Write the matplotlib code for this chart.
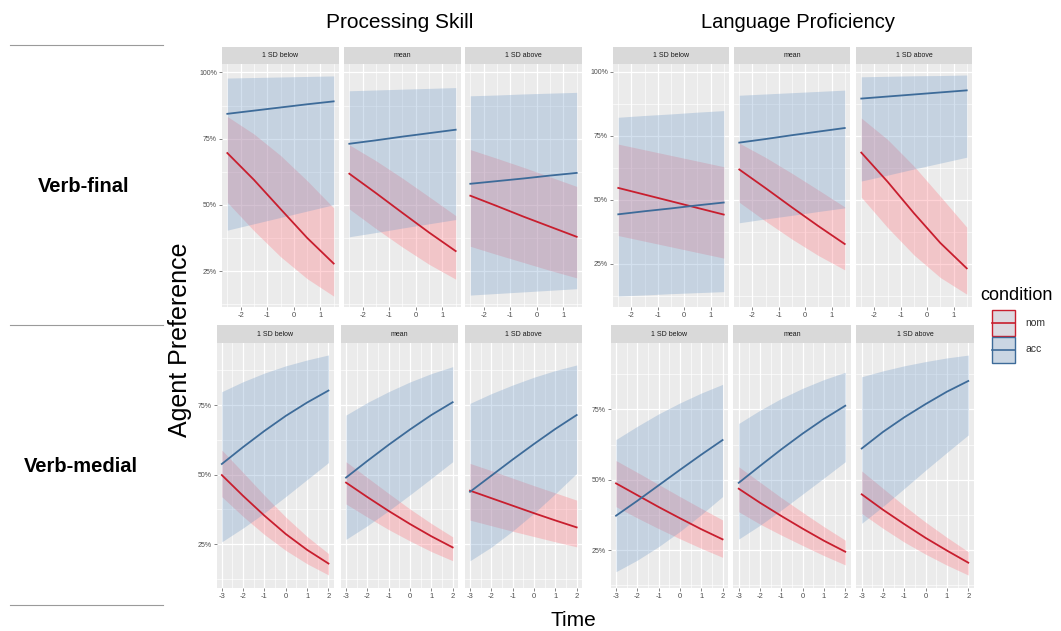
import matplotlib.pyplot as plt
from matplotlib.patches import Rectangle
from matplotlib.lines import Line2D
from matplotlib.ticker import MultipleLocator, FuncFormatter

plt.rcParams['font.family'] = ['Liberation Sans', 'DejaVu Sans']
plt.rcParams['axes.unicode_minus'] = False

W, H = 1061, 631

facets = ["1 SD below", "mean", "1 SD above"]
time_top = [-2.5, -1.5, -0.5, 0.5, 1.5]
time_bottom = [-3, -2, -1, 0, 1, 2]
ticks_top = [-2, -1, 0, 1]
ticks_bottom = [-3, -2, -1, 0, 1, 2]

# agent preference (%), one row per facet: 1 SD below, mean, 1 SD above
# verb-final, processing skill
vf_ps_nom = [[69.6, 59.5, 48.5, 37.6, 27.9], [61.8, 54.5, 47.0, 39.6, 32.6], [53.5, 49.6, 45.6, 41.8, 38.0]]
vf_ps_nom_lo = [[51.0, 40.3, 30.5, 22.2, 15.6], [48.5, 41.1, 34.1, 27.6, 22.0], [34.4, 31.3, 28.3, 25.3, 22.5]]
vf_ps_nom_hi = [[83.4, 76.8, 68.7, 59.2, 48.9], [72.7, 66.7, 60.1, 53.1, 46.0], [70.9, 67.6, 64.2, 60.6, 57.0]]
vf_ps_acc = [[84.4, 85.6, 86.8, 88.0, 89.1], [73.1, 74.4, 75.8, 77.1, 78.4], [58.0, 59.0, 60.0, 61.1, 62.1]]
vf_ps_acc_lo = [[40.5, 42.9, 45.3, 47.7, 50.1], [38.0, 39.6, 41.3, 42.9, 44.5], [16.0, 16.6, 17.2, 17.8, 18.4]]
vf_ps_acc_hi = [[97.9, 98.1, 98.3, 98.5, 98.7], [93.1, 93.4, 93.7, 94.0, 94.3], [91.2, 91.5, 91.9, 92.2, 92.5]]

# verb-final, language proficiency
vf_lp_nom = [[54.6, 52.0, 49.4, 46.8, 44.2], [61.8, 54.5, 47.0, 39.7, 32.7], [68.4, 57.0, 44.7, 33.1, 23.2]]
vf_lp_nom_lo = [[36.0, 33.8, 31.6, 29.4, 27.2], [49.0, 41.6, 34.6, 28.2, 22.6], [51.0, 39.1, 28.4, 19.6, 13.1]]
vf_lp_nom_hi = [[71.7, 69.5, 67.3, 65.1, 62.9], [72.1, 66.5, 60.3, 53.8, 47.2], [81.9, 73.5, 63.1, 51.3, 39.3]]
vf_lp_acc = [[44.3, 45.5, 46.6, 47.8, 48.9], [72.3, 73.7, 75.2, 76.6, 78.0], [89.5, 90.3, 91.1, 91.9, 92.7]]
vf_lp_acc_lo = [[12.4, 12.8, 13.3, 13.7, 14.1], [41.0, 42.5, 43.9, 45.4, 46.8], [57.3, 59.6, 62.0, 64.3, 66.6]]
vf_lp_acc_hi = [[82.2, 82.9, 83.5, 84.2, 84.8], [90.8, 91.3, 91.8, 92.3, 92.8], [98.0, 98.2, 98.4, 98.5, 98.7]]

# verb-medial, processing skill
vm_ps_nom = [[49.8, 42.3, 35.2, 28.6, 22.9, 18.0], [47.1, 41.9, 36.9, 32.2, 27.8, 23.8], [44.2, 41.5, 38.8, 36.1, 33.5, 31.0]]
vm_ps_nom_lo = [[42.0, 34.9, 28.4, 22.7, 17.9, 13.9], [39.4, 34.7, 30.2, 26.1, 22.3, 19.0], [33.6, 31.6, 29.6, 27.7, 25.8, 24.0]]
vm_ps_nom_hi = [[58.8, 50.7, 42.5, 34.7, 27.7, 21.6], [54.6, 48.9, 43.2, 37.6, 32.4, 27.6], [54.0, 51.4, 48.7, 46.0, 43.4, 40.8]]
vm_ps_acc = [[53.8, 59.9, 65.7, 71.1, 75.9, 80.2], [48.9, 54.9, 60.7, 66.2, 71.4, 76.0], [43.8, 49.6, 55.4, 61.0, 66.4, 71.4]]
vm_ps_acc_lo = [[25.8, 30.8, 36.2, 42.1, 48.2, 54.3], [26.7, 31.6, 37.0, 42.7, 48.6, 54.6], [19.0, 23.9, 29.7, 36.1, 43.1, 50.4]]
vm_ps_acc_hi = [[79.8, 83.4, 86.5, 89.1, 91.2, 93.0], [71.4, 75.9, 79.8, 83.3, 86.3, 88.8], [75.6, 79.1, 82.2, 85.0, 87.4, 89.4]]

# verb-medial, language proficiency
vm_lp_nom = [[48.7, 44.5, 40.3, 36.3, 32.4, 28.8], [46.8, 41.8, 37.1, 32.6, 28.3, 24.4], [44.8, 39.3, 34.2, 29.3, 24.8, 20.5]]
vm_lp_nom_lo = [[40.4, 36.4, 32.6, 29.0, 25.6, 22.4], [38.6, 34.2, 30.3, 26.6, 23.0, 19.7], [38.0, 32.7, 27.8, 23.5, 19.6, 16.1]]
vm_lp_nom_hi = [[56.8, 52.6, 48.3, 44.0, 39.8, 35.7], [54.6, 49.1, 43.6, 38.4, 33.3, 28.5], [53.1, 46.9, 40.7, 34.9, 29.5, 24.4]]
vm_lp_acc = [[37.2, 42.5, 48.0, 53.5, 58.9, 64.1], [48.9, 54.9, 60.8, 66.4, 71.6, 76.3], [61.1, 67.0, 72.2, 76.9, 81.3, 85.1]]
vm_lp_acc_lo = [[17.3, 21.4, 26.2, 31.6, 37.6, 44.0], [28.9, 33.8, 39.2, 44.9, 50.6, 56.4], [34.5, 40.5, 46.9, 53.4, 59.7, 65.9]]
vm_lp_acc_hi = [[64.3, 69.0, 73.4, 77.3, 80.8, 83.9], [70.0, 74.7, 78.9, 82.5, 85.6, 88.2], [86.6, 88.7, 90.5, 92.0, 93.3, 94.3]]

NOM_LINE, NOM_FILL = '#C81E2E', '#FF6F7A'
ACC_LINE, ACC_FILL = '#3D6B99', '#6F9AC8'

fig = plt.figure(figsize=(W / 100, H / 100), dpi=100)


def px(left, top, width, height):
    return [left / W, 1 - (top + height) / H, width / W, height / H]


def draw_group(lefts, width, top, bottom, strip_top, x, xticks, xlim, ylim, yticks,
               nom, nom_lo, nom_hi, acc, acc_lo, acc_hi):
    for i, left in enumerate(lefts):
        ax = fig.add_axes(px(left, top, width, bottom - top))
        ax.set_facecolor('#EBEBEB')
        ax.fill_between(x, nom_lo[i], nom_hi[i], color=NOM_FILL, alpha=0.3, lw=0)
        ax.fill_between(x, acc_lo[i], acc_hi[i], color=ACC_FILL, alpha=0.3, lw=0)
        ax.plot(x, nom[i], color=NOM_LINE, lw=1.3)
        ax.plot(x, acc[i], color=ACC_LINE, lw=1.3)
        ax.set_xlim(xlim)
        ax.set_ylim(ylim)
        ax.set_xticks(xticks)
        ax.xaxis.set_minor_locator(MultipleLocator(0.5))
        ax.set_yticks(yticks)
        ax.yaxis.set_minor_locator(MultipleLocator(12.5))
        ax.grid(which='major', color='white', lw=0.9)
        ax.grid(which='minor', color='white', lw=0.45)
        ax.set_axisbelow(True)
        for s in ax.spines.values():
            s.set_visible(False)
        ax.tick_params(which='minor', length=0)
        ax.tick_params(axis='x', length=2, width=0.5, color='#555555', labelsize=5.5,
                       labelcolor='#4D4D4D', pad=1.5)
        if i == 0:
            ax.yaxis.set_major_formatter(FuncFormatter(lambda v, p: f"{v:.0f}%"))
            ax.tick_params(axis='y', length=2, width=0.5, color='#555555', labelsize=5,
                           labelcolor='#4D4D4D', pad=1.5)
        else:
            ax.tick_params(axis='y', length=0, labelleft=False)
        sx = fig.add_axes(px(left, strip_top, width, top - strip_top))
        sx.set_facecolor('#D9D9D9')
        sx.set_xticks([])
        sx.set_yticks([])
        for s in sx.spines.values():
            s.set_visible(False)
        sx.text(0.5, 0.5, facets[i], ha='center', va='center', fontsize=5, color='#1A1A1A')


draw_group([222, 344, 465], 117, 64, 307, 47, time_top, ticks_top, (-2.7, 1.7), (11.5, 103.2), [25, 50, 75, 100],
           vf_ps_nom, vf_ps_nom_lo, vf_ps_nom_hi, vf_ps_acc, vf_ps_acc_lo, vf_ps_acc_hi)
draw_group([613, 734, 856], 116, 64, 307, 47, time_top, ticks_top, (-2.7, 1.7), (8.1, 103.0), [25, 50, 75, 100],
           vf_lp_nom, vf_lp_nom_lo, vf_lp_nom_hi, vf_lp_acc, vf_lp_acc_lo, vf_lp_acc_hi)
draw_group([216.5, 340.7, 464.7], 117.3, 343, 588, 325, time_bottom, ticks_bottom, (-3.25, 2.25), (9.2, 97.3),
           [25, 50, 75], vm_ps_nom, vm_ps_nom_lo, vm_ps_nom_hi, vm_ps_acc, vm_ps_acc_lo, vm_ps_acc_hi)
draw_group([610.7, 733.4, 856.4], 117.2, 343, 588, 325, time_bottom, ticks_bottom, (-3.25, 2.25), (11.5, 98.6),
           [25, 50, 75], vm_lp_nom, vm_lp_nom_lo, vm_lp_nom_hi, vm_lp_acc, vm_lp_acc_lo, vm_lp_acc_hi)

# titles and labels
fig.text(400 / W, 1 - 22 / H, "Processing Skill", ha='center', va='center', fontsize=15)
fig.text(798 / W, 1 - 22 / H, "Language Proficiency", ha='center', va='center', fontsize=14.5)
fig.text(84 / W, 1 - 186 / H, "Verb-final", ha='center', va='center', fontsize=14.5, fontweight='bold')
fig.text(81 / W, 1 - 466 / H, "Verb-medial", ha='center', va='center', fontsize=14.5, fontweight='bold')
fig.text(180 / W, 1 - 340 / H, "Agent Preference", ha='center', va='center', fontsize=18, rotation=90)
fig.text(573 / W, 1 - 620 / H, "Time", ha='center', va='center', fontsize=15)
for yy in [45, 325, 605]:
    fig.add_artist(Line2D([10 / W, 163 / W], [1 - yy / H] * 2, color='#9A9A9A', lw=0.8))

# legend
fig.text(980 / W, 1 - 295 / H, "condition", ha='left', va='center', fontsize=13)
for k, (lab, ec, fc) in enumerate([("nom", NOM_LINE, '#DCD9E0'), ("acc", ACC_LINE, '#CAD6E3')]):
    y0 = 310 + 26.5 * k
    fig.add_artist(Rectangle((992 / W, 1 - (y0 + 26) / H), 23 / W, 26 / H, transform=fig.transFigure,
                             facecolor=fc, edgecolor=ec, lw=1))
    fig.add_artist(Line2D([992 / W, 1015 / W], [1 - (y0 + 13) / H] * 2, color=ec, lw=1.2))
    fig.text(1025 / W, 1 - (y0 + 13) / H, lab, ha='left', va='center', fontsize=7.5, color='#333333')

fig.savefig("out.png", dpi=100)
